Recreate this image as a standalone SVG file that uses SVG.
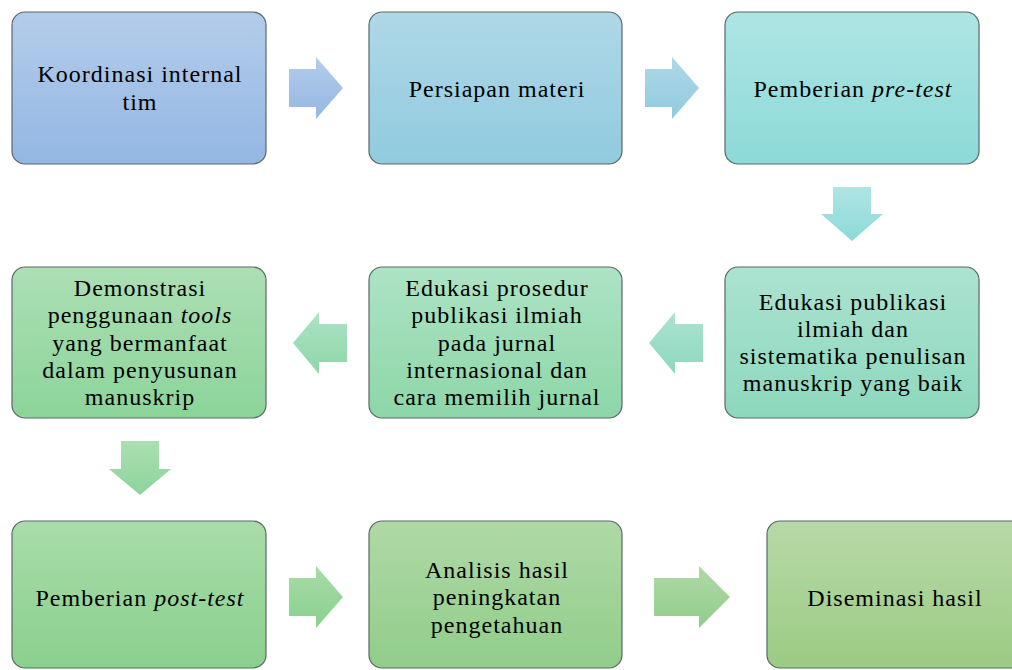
<svg xmlns="http://www.w3.org/2000/svg" width="1012" height="670" viewBox="0 0 1012 670">
<defs>
<linearGradient id="g1" x1="0" y1="0" x2="0" y2="1"><stop offset="0" stop-color="#b4ccea"/><stop offset="1" stop-color="#93b7e3"/></linearGradient>
<linearGradient id="g2" x1="0" y1="0" x2="0" y2="1"><stop offset="0" stop-color="#afd8e7"/><stop offset="1" stop-color="#91cadf"/></linearGradient>
<linearGradient id="g3" x1="0" y1="0" x2="0" y2="1"><stop offset="0" stop-color="#aee5e4"/><stop offset="1" stop-color="#8cdad8"/></linearGradient>
<linearGradient id="g4" x1="0" y1="0" x2="0" y2="1"><stop offset="0" stop-color="#ace3d1"/><stop offset="1" stop-color="#8cd8bd"/></linearGradient>
<linearGradient id="g5" x1="0" y1="0" x2="0" y2="1"><stop offset="0" stop-color="#ade3c5"/><stop offset="1" stop-color="#8dd6a8"/></linearGradient>
<linearGradient id="g6" x1="0" y1="0" x2="0" y2="1"><stop offset="0" stop-color="#acdfb4"/><stop offset="1" stop-color="#8cd49a"/></linearGradient>
<linearGradient id="g7" x1="0" y1="0" x2="0" y2="1"><stop offset="0" stop-color="#a9dca9"/><stop offset="1" stop-color="#8ad08d"/></linearGradient>
<linearGradient id="g8" x1="0" y1="0" x2="0" y2="1"><stop offset="0" stop-color="#afd9a6"/><stop offset="1" stop-color="#91cd8a"/></linearGradient>
<linearGradient id="g9" x1="0" y1="0" x2="0" y2="1"><stop offset="0" stop-color="#b7d9a7"/><stop offset="1" stop-color="#9ccb84"/></linearGradient>
</defs>
<g id="connectors">
<polygon fill="url(#g1)" points="289,69 316,69 316,57 343,88 316,119 316,107 289,107"/>
<polygon fill="url(#g2)" points="645,69 672,69 672,57 699,88 672,119 672,107 645,107"/>
<polygon fill="url(#g3)" points="833,187 871,187 871,214 883,214 852,241 821,214 833,214"/>
<polygon fill="url(#g4)" points="703,324 675,324 675,312 649,343 675,374 675,362 703,362"/>
<polygon fill="url(#g5)" points="347,324 319,324 319,312 293,343 319,374 319,362 347,362"/>
<polygon fill="url(#g6)" points="121,441 159,441 159,469 171,469 140,495 109,469 121,469"/>
<polygon fill="url(#g7)" points="289,578 316,578 316,566 343,597 316,628 316,616 289,616"/>
<polygon fill="url(#g8)" points="654,578 699,578 699,566 730,597 699,628 699,616 654,616"/>
</g>
<g stroke="#5b6868" stroke-width="1.2">
<rect id="r1" x="12" y="12" width="254" height="152" rx="13" fill="url(#g1)"/>
<rect id="r2" x="369" y="12" width="253" height="152" rx="13" fill="url(#g2)"/>
<rect id="r3" x="725" y="12" width="254" height="152" rx="13" fill="url(#g3)"/>
<rect id="r4" x="725" y="267" width="254" height="151" rx="13" fill="url(#g4)"/>
<rect id="r5" x="369" y="267" width="253" height="151" rx="13" fill="url(#g5)"/>
<rect id="r6" x="12" y="267" width="254" height="151" rx="13" fill="url(#g6)"/>
<rect id="r7" x="12" y="521" width="254" height="147" rx="13" fill="url(#g7)"/>
<rect id="r8" x="369" y="521" width="253" height="147" rx="13" fill="url(#g8)"/>
<rect id="r9" x="767" y="521" width="260" height="147" rx="13" fill="url(#g9)"/>
</g>
<text style="font-family:'Liberation Serif'" font-size="24" letter-spacing="1" text-anchor="middle" x="140" y="82">Koordinasi internal</text>
<text style="font-family:'Liberation Serif'" font-size="24" letter-spacing="1" text-anchor="middle" x="140" y="110">tim</text>
<text style="font-family:'Liberation Serif'" font-size="24" letter-spacing="1" text-anchor="middle" x="497" y="97">Persiapan materi</text>
<text style="font-family:'Liberation Serif'" font-size="24" letter-spacing="1" text-anchor="middle" x="853" y="97">Pemberian <tspan font-style="italic">pre-test</tspan></text>
<text style="font-family:'Liberation Serif'" font-size="24" letter-spacing="1" text-anchor="middle" x="853" y="310">Edukasi publikasi</text>
<text style="font-family:'Liberation Serif'" font-size="24" letter-spacing="1" text-anchor="middle" x="853" y="337">ilmiah dan</text>
<text style="font-family:'Liberation Serif'" font-size="24" letter-spacing="1" text-anchor="middle" x="853" y="364">sistematika penulisan</text>
<text style="font-family:'Liberation Serif'" font-size="24" letter-spacing="1" text-anchor="middle" x="853" y="391">manuskrip yang baik</text>
<text style="font-family:'Liberation Serif'" font-size="24" letter-spacing="1" text-anchor="middle" x="497" y="296">Edukasi prosedur</text>
<text style="font-family:'Liberation Serif'" font-size="24" letter-spacing="1" text-anchor="middle" x="497" y="323">publikasi ilmiah</text>
<text style="font-family:'Liberation Serif'" font-size="24" letter-spacing="1" text-anchor="middle" x="497" y="351">pada jurnal</text>
<text style="font-family:'Liberation Serif'" font-size="24" letter-spacing="1" text-anchor="middle" x="497" y="378">internasional dan</text>
<text style="font-family:'Liberation Serif'" font-size="24" letter-spacing="1" text-anchor="middle" x="497" y="405">cara memilih jurnal</text>
<text style="font-family:'Liberation Serif'" font-size="24" letter-spacing="1" text-anchor="middle" x="140" y="296">Demonstrasi</text>
<text style="font-family:'Liberation Serif'" font-size="24" letter-spacing="1" text-anchor="middle" x="140" y="323">penggunaan <tspan font-style="italic">tools</tspan></text>
<text style="font-family:'Liberation Serif'" font-size="24" letter-spacing="1" text-anchor="middle" x="140" y="351">yang bermanfaat</text>
<text style="font-family:'Liberation Serif'" font-size="24" letter-spacing="1" text-anchor="middle" x="140" y="378">dalam penyusunan</text>
<text style="font-family:'Liberation Serif'" font-size="24" letter-spacing="1" text-anchor="middle" x="140" y="405">manuskrip</text>
<text style="font-family:'Liberation Serif'" font-size="24" letter-spacing="1" text-anchor="middle" x="140" y="606">Pemberian <tspan font-style="italic">post-test</tspan></text>
<text style="font-family:'Liberation Serif'" font-size="24" letter-spacing="1" text-anchor="middle" x="497" y="578">Analisis hasil</text>
<text style="font-family:'Liberation Serif'" font-size="24" letter-spacing="1" text-anchor="middle" x="497" y="605">peningkatan</text>
<text style="font-family:'Liberation Serif'" font-size="24" letter-spacing="1" text-anchor="middle" x="497" y="633">pengetahuan</text>
<text style="font-family:'Liberation Serif'" font-size="24" letter-spacing="1" text-anchor="middle" x="895" y="606">Diseminasi hasil</text>
</svg>
